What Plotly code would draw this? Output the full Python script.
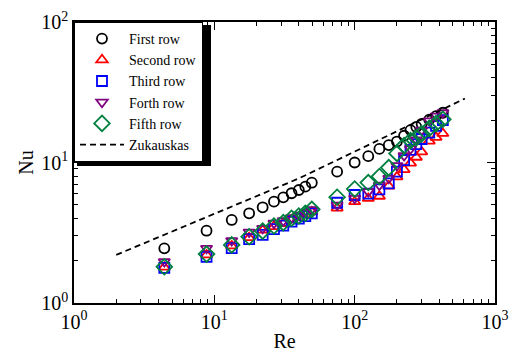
import plotly.graph_objects as go

# ---- data ----
re_low = [4.4, 8.8, 13.3, 17.7, 22.1, 26.6, 31.0, 35.5, 40.0, 44.5, 49.5]
re_high = [75, 100, 125, 150, 175, 200, 225, 250, 275, 300, 340, 380, 425]
re_all = re_low + re_high

nu_first = [2.45, 3.27, 3.90, 4.35, 4.80, 5.26, 5.65, 6.04, 6.37, 6.73, 7.18,
            8.6, 10.0, 11.1, 12.5, 13.3, 14.1, 15.5, 17.0, 17.9, 18.8, 20.2, 21.4, 22.6]
nu_second = [1.80, 2.20, 2.55, 2.92, 3.30, 3.50, 3.68, 3.90, 4.05, 4.25, 4.45,
             4.74, 5.26, 5.55, 5.75, 6.8, 7.9, 8.9, 9.9, 10.9, 11.9, 14.2, 15.1, 16.1]
nu_third = [1.78, 2.13, 2.46, 2.85, 3.05, 3.36, 3.55, 3.80, 3.98, 4.15, 4.35,
            5.17, 5.87, 6.0, 6.44, 7.1, 8.6, 10.4, 12.3, 13.5, 14.7, 16.3, 18.2, 20.0]
nu_forth = [1.97, 2.45, 2.78, 3.20, 3.40, 3.70, 3.85, 4.05, 4.22, 4.42, 4.62,
            4.98, 5.56, 6.2, 6.9, 7.72, 9.5, 11.2, 12.5, 14.5, 17.0, 19.8, 21.4, 22.6]
nu_fifth = [1.81, 2.23, 2.59, 2.96, 3.25, 3.53, 3.73, 4.01, 4.16, 4.35, 4.64,
            5.66, 6.48, 7.2, 7.95, 9.2, 11.6, 13.2, 14.3, 15.0, 16.0, 17.5, 18.9, 20.3]

re_zuk = [2.0, 40.0, 610.0]
nu_zuk = [2.2, 7.7, 28.5]

x_tickvals = [1, 10, 100, 1000]
x_ticktext = ["10<sup>0</sup>", "10<sup>1</sup>", "10<sup>2</sup>", "10<sup>3</sup>"]
y_tickvals = [1, 10, 100]
y_ticktext = ["10<sup>0</sup>", "10<sup>1</sup>", "10<sup>2</sup>"]

series = [
    ("First row", nu_first, "circle-open", "#000000", 10),
    ("Second row", nu_second, "triangle-up-open", "#ff0000", 10),
    ("Third row", nu_third, "square-open", "#0000ff", 10),
    ("Forth row", nu_forth, "triangle-down-open", "#800080", 10),
    ("Fifth row", nu_fifth, "diamond-open", "#008040", 12),
]

fig = go.Figure()
for name, vals, sym, col, sz in series:
    fig.add_trace(go.Scatter(
        x=re_all, y=vals, mode="markers", name=name,
        marker=dict(symbol=sym, size=sz, color=col, line=dict(width=1.8, color=col)),
    ))
fig.add_trace(go.Scatter(
    x=re_zuk, y=nu_zuk, mode="lines", name="Zukauskas",
    line=dict(color="black", width=1.8, dash="6px,4px"),
))

minor_x = [v * d for d in (1, 10, 100) for v in range(2, 10)]
minor_y = [v * d for d in (1, 10) for v in range(2, 10)]

font_family = "Liberation Serif, Times New Roman, Times, serif"
axis_common = dict(
    type="log", showline=True, linecolor="black", linewidth=1.5, mirror="ticks",
    ticks="inside", ticklen=8, tickwidth=1.2, tickcolor="black",
    showgrid=False, zeroline=False, automargin=False,
    tickfont=dict(family=font_family, size=20, color="black"),
)

# legend drop shadow (decoration), sized in pixels from the legend's top-left corner
LEG_W, LEG_H, SHADOW = 134, 141, 3
fig.add_shape(
    type="rect", xref="paper", yref="paper",
    xsizemode="pixel", ysizemode="pixel", xanchor=0, yanchor=1,
    x0=SHADOW, x1=LEG_W + SHADOW, y0=-SHADOW, y1=-(LEG_H + SHADOW),
    fillcolor="black", line=dict(width=0), layer="above",
)

# the page adds an 8px body margin, so the figure is 8px smaller on each axis
fig.update_layout(
    width=514, height=346,
    margin=dict(l=66, r=27, t=14, b=51),
    paper_bgcolor="white", plot_bgcolor="white",
    font=dict(family=font_family, color="black"),
    showlegend=True,
    legend=dict(
        x=0, y=1, xanchor="left", yanchor="top",
        bgcolor="white", bordercolor="black", borderwidth=1,
        font=dict(family=font_family, size=14, color="black"),
        tracegroupgap=0, itemwidth=44,
    ),
    xaxis=dict(
        axis_common, range=[0, 3], tickmode="array", tickvals=x_tickvals, ticktext=x_ticktext,
        minor=dict(tickmode="array", tickvals=minor_x, ticks="inside", ticklen=4,
                   tickwidth=1, tickcolor="black", showgrid=False),
        title=dict(text="Re", font=dict(family=font_family, size=20), standoff=2),
    ),
    yaxis=dict(
        axis_common, range=[0, 2], tickmode="array", tickvals=y_tickvals, ticktext=y_ticktext,
        minor=dict(tickmode="array", tickvals=minor_y, ticks="inside", ticklen=4,
                   tickwidth=1, tickcolor="black", showgrid=False),
        title=dict(text="Nu", font=dict(family=font_family, size=20), standoff=2),
    ),
)

fig.write_html("out.html")
